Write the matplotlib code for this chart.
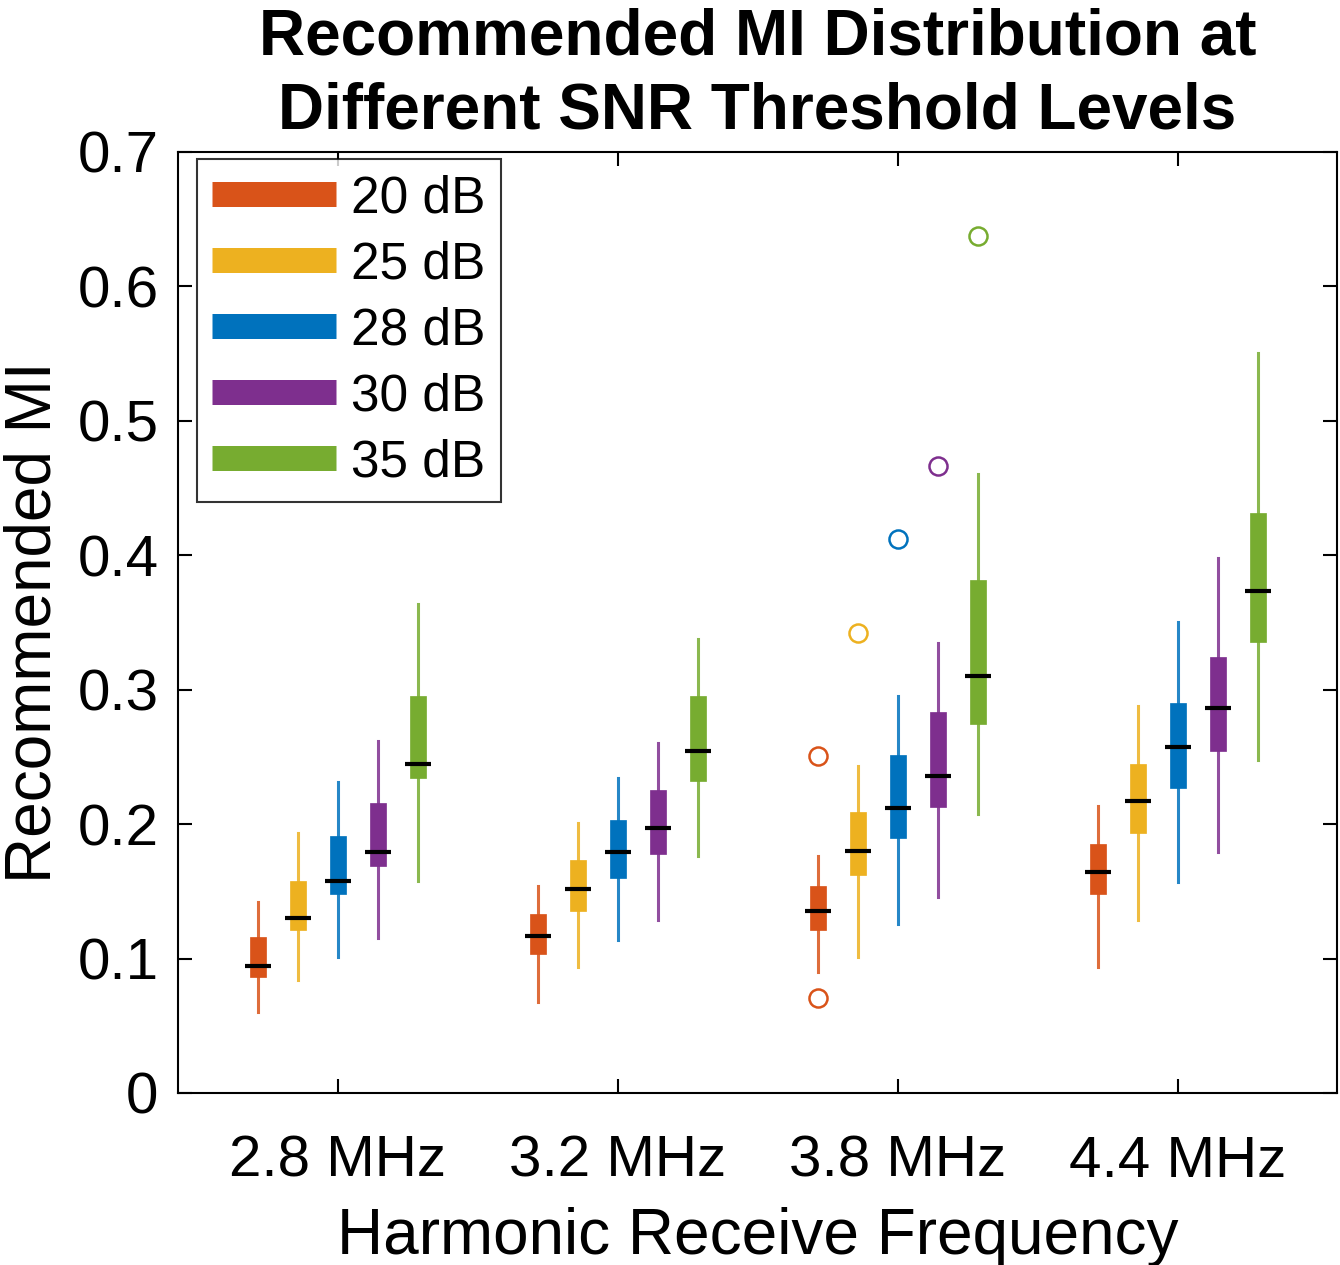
import matplotlib.pyplot as plt
from matplotlib.lines import Line2D
import numpy as np

plt.rcParams['font.family'] = ['Liberation Sans', 'DejaVu Sans']

freq_labels = ['2.8 MHz', '3.2 MHz', '3.8 MHz', '4.4 MHz']
snr_labels = ['20 dB', '25 dB', '28 dB', '30 dB', '35 dB']
colors = ['#D95319', '#EDB120', '#0072BD', '#7E2F8E', '#77AC30']

# rows: SNR level, columns: frequency
whisker_lo = [[0.060, 0.068, 0.090, 0.094],
              [0.084, 0.094, 0.101, 0.129],
              [0.101, 0.114, 0.126, 0.157],
              [0.115, 0.129, 0.146, 0.179],
              [0.158, 0.176, 0.2075, 0.248]]
q1 = [[0.086, 0.103, 0.121, 0.148],
      [0.121, 0.135, 0.162, 0.193],
      [0.148, 0.160, 0.190, 0.227],
      [0.169, 0.178, 0.213, 0.254],
      [0.234, 0.232, 0.2745, 0.3355]]
median = [[0.0945, 0.117, 0.135, 0.164],
          [0.130, 0.152, 0.180, 0.217],
          [0.158, 0.179, 0.212, 0.257],
          [0.179, 0.197, 0.236, 0.286],
          [0.245, 0.254, 0.310, 0.373]]
q3 = [[0.116, 0.133, 0.154, 0.185],
      [0.158, 0.173, 0.209, 0.245],
      [0.191, 0.203, 0.251, 0.290],
      [0.216, 0.225, 0.283, 0.324],
      [0.295, 0.295, 0.3816, 0.431]]
whisker_hi = [[0.142, 0.154, 0.176, 0.2135],
              [0.193, 0.201, 0.243, 0.288],
              [0.231, 0.234, 0.295, 0.350],
              [0.262, 0.260, 0.335, 0.398],
              [0.364, 0.338, 0.4605, 0.550]]
outliers = [[[], [], [0.0707, 0.2507], []],
            [[], [], [0.342], []],
            [[], [], [0.412], []],
            [[], [], [0.4664], []],
            [[], [], [0.6375], []]]

fig = plt.figure(figsize=(13.4, 12.65), dpi=100)
ax = fig.add_axes([0.1328, 0.136, 0.865, 0.744])

centers = np.arange(1, len(freq_labels) + 1)
step = 40 / 280
box_w = 0.06

for i, c in enumerate(colors):
    pos = centers + (i - 2) * step
    stats = []
    for j in range(len(freq_labels)):
        stats.append(dict(whislo=whisker_lo[i][j], q1=q1[i][j], med=median[i][j],
                          q3=q3[i][j], whishi=whisker_hi[i][j], fliers=outliers[i][j]))
    ax.bxp(stats, positions=pos, widths=box_w, patch_artist=True, showcaps=False,
           manage_ticks=False,
           boxprops=dict(facecolor=c, edgecolor=c, linewidth=0.5),
           whiskerprops=dict(color=c, linewidth=2.2, alpha=0.85),
           medianprops=dict(visible=False),
           flierprops=dict(marker='o', markerfacecolor='none', markeredgecolor=c,
                           markersize=13, markeredgewidth=1.8))
    ax.hlines(median[i], pos - 0.045, pos + 0.045, colors='k', linewidth=3, zorder=4)

ax.set_xlim(0.4286, 4.568)
ax.set_ylim(0, 0.7)
ax.set_xticks(centers)
ax.set_xticklabels(freq_labels)
ax.set_yticks(np.arange(0, 0.71, 0.1))
ax.set_yticklabels(['0', '0.1', '0.2', '0.3', '0.4', '0.5', '0.6', '0.7'])
ax.tick_params(direction='in', length=10, width=1.5, labelsize=42,
               top=True, right=True, pad=14)
ax.tick_params(axis='x', pad=30)
for s in ax.spines.values():
    s.set_linewidth(1.5)

ax.set_xlabel('Harmonic Receive Frequency', fontsize=46, labelpad=13)
ax.set_ylabel('Recommended MI', fontsize=46, labelpad=10)
ax.set_title('Recommended MI Distribution at\nDifferent SNR Threshold Levels',
             fontsize=46, fontweight='bold', linespacing=1.3, pad=17)

handles = [Line2D([0], [0], color=c, linewidth=18, solid_capstyle='butt') for c in colors]
leg = ax.legend(handles, snr_labels, loc='upper left', fontsize=37, frameon=True,
                fancybox=False, edgecolor='k', handlelength=2.4, handletextpad=0.3,
                borderpad=0.3, labelspacing=0.33, borderaxespad=0.1,
                bbox_to_anchor=(0.012, 0.998))
leg.get_frame().set_linewidth(1.5)

fig.savefig('out.png', dpi=100)
